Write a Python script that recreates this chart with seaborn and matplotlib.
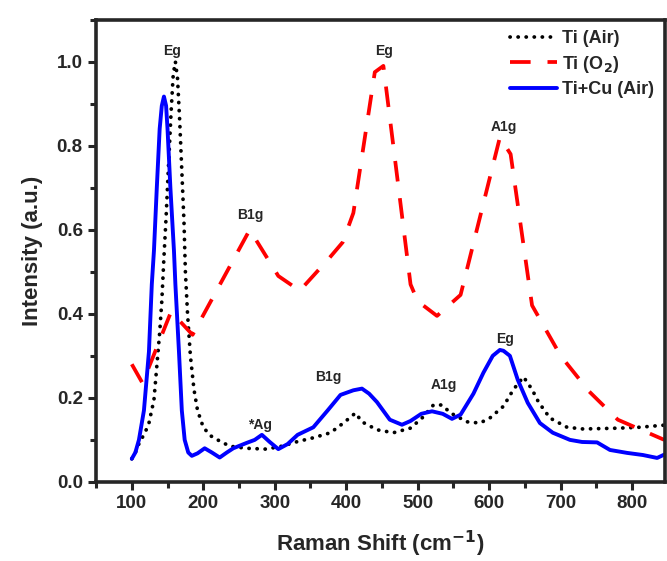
import pandas as pd
import seaborn as sns
import matplotlib.pyplot as plt
from matplotlib.ticker import MultipleLocator

sns.set_theme(style="ticks")
plt.rcParams['font.family'] = ['Liberation Sans', 'DejaVu Sans']
plt.rcParams['font.weight'] = 'bold'
plt.rcParams['axes.labelweight'] = 'bold'

# Ti (Air), black dotted
ti_air_x = [100, 105, 111, 118, 124, 131, 135, 139, 142, 145, 148, 151, 155, 158, 161,
            164, 167, 170, 173, 175, 178, 182, 187, 192, 200, 210, 220, 237, 260, 288,
            310, 332, 354, 378, 396, 413, 422, 443, 466, 490, 508, 522, 534, 546, 569,
            587, 601, 620, 634, 648, 660, 669, 685, 709, 731, 760, 783, 810, 845]
ti_air_y = [0.055, 0.07, 0.095, 0.115, 0.14, 0.195, 0.275, 0.355, 0.43, 0.535, 0.63, 0.74, 0.88, 0.97, 1.0,
            0.96, 0.86, 0.74, 0.62, 0.50, 0.40, 0.30, 0.22, 0.17, 0.13, 0.11, 0.10, 0.085, 0.08, 0.078,
            0.085, 0.096, 0.105, 0.117, 0.14, 0.164, 0.143, 0.124, 0.117, 0.128, 0.155, 0.183, 0.183, 0.164, 0.143,
            0.14, 0.152, 0.18, 0.22, 0.25, 0.22, 0.19, 0.152, 0.13, 0.126, 0.127, 0.128, 0.13, 0.135]

# Ti (O2), red dashed
ti_o2_x = [100, 115, 155, 185, 265, 305, 335, 375, 395, 410, 440, 452, 490, 500, 527, 560,
           615, 630, 660, 700, 740, 780, 845]
ti_o2_y = [0.28, 0.235, 0.405, 0.35, 0.60, 0.49, 0.455, 0.53, 0.57, 0.64, 0.975, 0.99, 0.47, 0.43, 0.395, 0.445,
           0.82, 0.78, 0.42, 0.30, 0.215, 0.148, 0.10]

# Ti+Cu (Air), blue solid
ticu_x = [100, 105, 110, 117, 124, 128, 131, 135, 139, 142, 145, 148, 150, 154, 159,
          161, 166, 170, 174, 179, 184, 192, 202, 212, 223, 233, 242, 261, 272, 282,
          293, 305, 318, 332, 354, 374, 392, 410, 422, 432, 443, 461, 478, 490, 505,
          520, 535, 548, 560, 578, 592, 605, 615, 620, 629, 640, 654, 671, 689, 713,
          730, 751, 769, 793, 815, 835, 845]
ticu_y = [0.055, 0.07, 0.10, 0.17, 0.31, 0.47, 0.55, 0.70, 0.84, 0.895, 0.917, 0.895, 0.84, 0.70, 0.55,
          0.47, 0.31, 0.17, 0.10, 0.07, 0.062, 0.068, 0.08, 0.07, 0.058, 0.07, 0.08, 0.093, 0.10, 0.112,
          0.095, 0.078, 0.09, 0.112, 0.13, 0.17, 0.207, 0.218, 0.222, 0.21, 0.19, 0.148, 0.136, 0.145, 0.162,
          0.168, 0.162, 0.15, 0.16, 0.21, 0.26, 0.30, 0.314, 0.312, 0.30, 0.243, 0.188, 0.14, 0.117, 0.10,
          0.095, 0.094, 0.076, 0.069, 0.064, 0.057, 0.065]

# peak labels
peak_text = ["Eg", "B1g", "Eg", "A1g", "*Ag", "B1g", "A1g", "Eg"]
peak_x = [157, 266, 453, 620, 279, 375, 536, 622]
peak_y = [1.026, 0.635, 1.026, 0.845, 0.136, 0.25, 0.23, 0.34]

fig = plt.figure(figsize=(6.67, 5.61), dpi=100)
ax = fig.add_axes([0.144, 0.141, 0.853, 0.824])

sns.lineplot(data=pd.DataFrame({"x": ti_air_x, "y": ti_air_y}), x="x", y="y", ax=ax,
             color="black", lw=2.7, linestyle=(0, (0.05, 2.1)), dash_capstyle="round",
             sort=False, label="Ti (Air)")
sns.lineplot(data=pd.DataFrame({"x": ti_o2_x, "y": ti_o2_y}), x="x", y="y", ax=ax,
             color="#ff0000", lw=2.7, linestyle=(0, (5.5, 4.5)),
             sort=False, label="Ti (O$_2$)")
sns.lineplot(data=pd.DataFrame({"x": ticu_x, "y": ticu_y}), x="x", y="y", ax=ax,
             color="#0000ff", lw=2.8, sort=False, label="Ti+Cu (Air)")

for t, px, py in zip(peak_text, peak_x, peak_y):
    ax.text(px, py, t, ha="center", va="center", fontsize=10, fontweight="bold")

ax.set_xlim(50, 846)
ax.set_ylim(0, 1.1)
ax.xaxis.set_major_locator(MultipleLocator(100))
ax.xaxis.set_minor_locator(MultipleLocator(50))
ax.yaxis.set_major_locator(MultipleLocator(0.2))
ax.yaxis.set_minor_locator(MultipleLocator(0.1))
ax.set_xticks(range(100, 900, 100))
ax.tick_params(which="major", length=6, width=2.2, labelsize=13.5, direction="out")
ax.tick_params(which="minor", length=4, width=2.2, direction="out")
for lab in ax.get_xticklabels() + ax.get_yticklabels():
    lab.set_fontweight("bold")
for s in ax.spines.values():
    s.set_linewidth(2.6)
    s.set_visible(True)

ax.set_xlabel("Raman Shift (cm$^{-1}$)", fontsize=16, fontweight="bold", labelpad=12)
ax.set_ylabel("Intensity (a.u.)", fontsize=16, fontweight="bold", labelpad=10)

leg = ax.legend(loc="upper right", frameon=False, fontsize=13, handlelength=2.6,
                handletextpad=0.3, labelspacing=0.35, borderaxespad=0.2)
for t in leg.get_texts():
    t.set_fontweight("bold")

fig.savefig("out.png", dpi=100)
